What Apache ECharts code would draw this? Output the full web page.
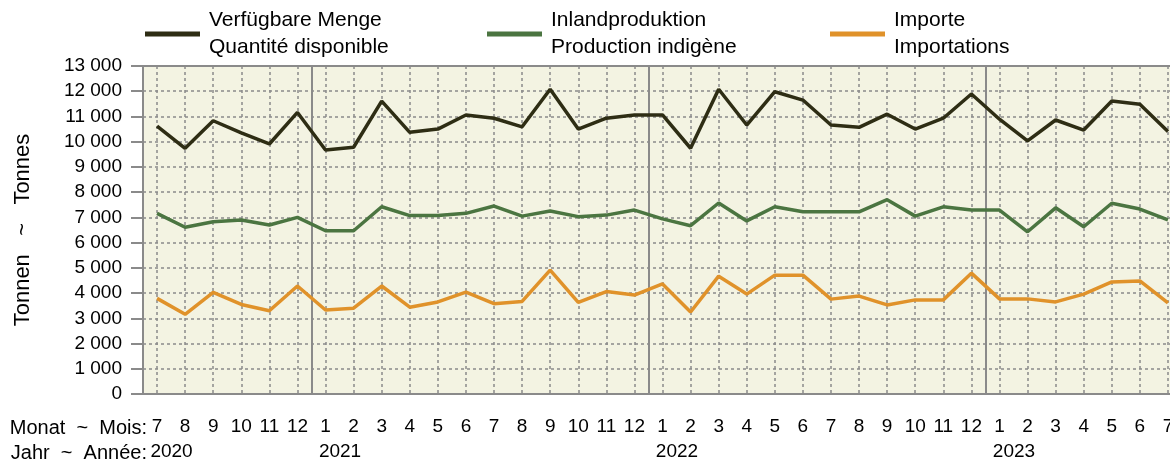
<!DOCTYPE html>
<html>
<head>
<meta charset="utf-8">
<script src="https://cdn.jsdelivr.net/npm/echarts@6/dist/echarts.min.js"></script>
<style>
  html, body { margin: 0; padding: 0; background: #ffffff; overflow: hidden; width: 1170px; height: 461px; }
  /* the plot runs past the right edge of the page, so the canvas is wider than the window */
  #chart { width: 1200px; height: 461px; }
</style>
</head>
<body>
<div id="chart"></div>
<script>
// Months July 2020 – July 2023
const months = [
  '7','8','9','10','11','12',
  '1','2','3','4','5','6','7','8','9','10','11','12',
  '1','2','3','4','5','6','7','8','9','10','11','12',
  '1','2','3','4','5','6','7'
];
// Year label shown under the first month of each year
const years = [
  '2020','','','','','',
  '2021','','','','','','','','','','','',
  '2022','','','','','','','','','','','',
  '2023','','','','','',''
];
// Tonnes per month
const available = [
  10620, 9740, 10830, 10350, 9910, 11160,
  9670, 9780, 11610, 10370, 10500, 11060, 10930, 10590, 12080, 10500, 10930, 11060,
  11060, 9740, 12080, 10660, 11980, 11650, 10660, 10570, 11090, 10500, 10930, 11890,
  10890, 10030, 10860, 10460, 11610, 11480, 10400
];
const domestic = [
  7160, 6610, 6830, 6900, 6700, 7000,
  6470, 6470, 7420, 7070, 7070, 7160, 7450, 7050, 7250, 7030, 7090, 7290,
  6940, 6670, 7570, 6860, 7420, 7220, 7220, 7220, 7700, 7050, 7420, 7290,
  7290, 6430, 7380, 6630, 7560, 7330, 6900
];
const imports = [
  3790, 3160, 4030, 3550, 3300, 4280,
  3330, 3400, 4280, 3440, 3650, 4040, 3580, 3670, 4910, 3630, 4060, 3920,
  4360, 3250, 4670, 3960, 4710, 4710, 3760, 3880, 3530, 3730, 3730, 4790,
  3770, 3770, 3650, 3960, 4440, 4480, 3610
];
const seriesNames = [
  'Verfügbare Menge\nQuantité disponible',
  'Inlandproduktion\nProduction indigène',
  'Importe\nImportations'
];
const seriesColors = ['#2e2d14', '#4b7541', '#e0922a'];
const yearBoundaries = [6, 18, 30];

const FONT = '"Liberation Sans", Arial, sans-serif';
const GRID_GRAY = '#8a8a8a';

const chart = echarts.init(document.getElementById('chart'));

function legendFor(i, left) {
  return {
    data: [seriesNames[i]],
    left: left,
    top: 7,
    padding: 0,
    orient: 'horizontal',
    icon: 'rect',
    itemWidth: 55,
    itemHeight: 5,
    selectedMode: false,
    textStyle: { fontFamily: FONT, fontSize: 21, lineHeight: 27, color: '#000', padding: [0, 0, 0, 4] }
  };
}

const allData = [available, domestic, imports];

chart.setOption({
  animation: false,
  textStyle: { fontFamily: FONT },
  legend: [legendFor(0, 145), legendFor(1, 487), legendFor(2, 830)],
  grid: {
    left: 143, top: 66, width: 1039, height: 328,
    show: true, backgroundColor: '#f3f3e2', borderColor: GRID_GRAY, borderWidth: 2
  },
  xAxis: [
    {
      type: 'category',
      data: months,
      boundaryGap: true,
      axisLine: { lineStyle: { color: GRID_GRAY, width: 2 } },
      axisTick: { alignWithLabel: true, interval: 0, length: 12, lineStyle: { color: GRID_GRAY, width: 2 } },
      axisLabel: { interval: 0, fontSize: 19, color: '#000', margin: 23, fontFamily: FONT },
      splitLine: {
        show: true, interval: 0, alignWithLabel: true,
        lineStyle: { color: GRID_GRAY, type: [3, 3], width: 1.5 }
      }
    },
    {
      type: 'category',
      data: months,
      boundaryGap: true,
      position: 'bottom',
      offset: 26,
      axisLine: { show: false },
      axisTick: { show: false },
      axisLabel: {
        interval: 0, fontSize: 19, color: '#000', margin: 22, fontFamily: FONT,
        formatter: (v, i) => years[i] ? '{s| }{y|' + years[i] + '}' : '',
        rich: {
          s: { width: 29, fontSize: 19, fontFamily: FONT },
          y: { fontSize: 19, color: '#000', fontFamily: FONT }
        }
      },
      splitLine: {
        show: true,
        interval: (i) => yearBoundaries.indexOf(i) >= 0,
        lineStyle: { color: GRID_GRAY, width: 2, type: 'solid' }
      }
    }
  ],
  yAxis: {
    type: 'value',
    min: 0, max: 13000, interval: 1000,
    name: 'Tonnen   ~   Tonnes',
    nameLocation: 'middle',
    nameGap: 109,
    nameTextStyle: { fontSize: 22, color: '#000', fontFamily: FONT },
    axisLine: { show: true, lineStyle: { color: GRID_GRAY, width: 2 } },
    axisTick: { show: true, length: 12, lineStyle: { color: GRID_GRAY, width: 2 } },
    axisLabel: {
      fontSize: 19, color: '#000', margin: 21, fontFamily: FONT,
      formatter: (v) => String(v).replace(/\B(?=(\d{3})+(?!\d))/g, ' ')
    },
    splitLine: { lineStyle: { color: GRID_GRAY, type: [3, 3], width: 1.5 } }
  },
  series: allData.map((d, i) => ({
    name: seriesNames[i],
    type: 'line',
    xAxisIndex: 0,
    data: d,
    symbol: 'none',
    itemStyle: { color: seriesColors[i] },
    lineStyle: { color: seriesColors[i], width: 3.5 },
    z: 5 - i
  })),
  graphic: [
    {
      type: 'text', x: 147, y: 428,
      style: { text: 'Monat  ~  Mois:', font: '20px ' + FONT, fill: '#000', align: 'right', verticalAlign: 'middle' }
    },
    {
      type: 'text', x: 147, y: 453,
      style: { text: 'Jahr  ~  Année:', font: '20px ' + FONT, fill: '#000', align: 'right', verticalAlign: 'middle' }
    }
  ]
});
</script>
</body>
</html>
